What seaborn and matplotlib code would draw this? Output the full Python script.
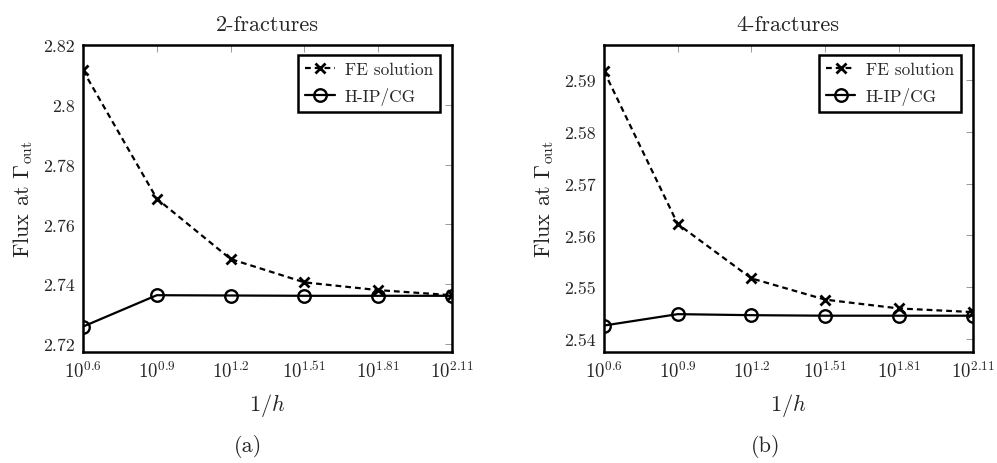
import numpy as np
import pandas as pd
import matplotlib
matplotlib.use("Agg")
import matplotlib.pyplot as plt
import seaborn as sns

sns.set_style("white")
plt.rcParams['font.family'] = ['cmr10', 'DejaVu Serif']
plt.rcParams['mathtext.fontset'] = 'cm'
plt.rcParams['axes.unicode_minus'] = False
plt.rcParams['axes.formatter.use_mathtext'] = True

# ---- data ----
inv_h = [4, 8, 16, 32, 64, 128]
x_tick_labels = [r"$10^{0.6}$", r"$10^{0.9}$", r"$10^{1.2}$",
                 r"$10^{1.51}$", r"$10^{1.81}$", r"$10^{2.11}$"]

fe_2frac = [2.8115, 2.7686, 2.7484, 2.7406, 2.7380, 2.7363]
hip_2frac = [2.7258, 2.7363, 2.7362, 2.7361, 2.7361, 2.7361]
y_ticks_2 = [2.72, 2.74, 2.76, 2.78, 2.80, 2.82]
y_labels_2 = ["2.72", "2.74", "2.76", "2.78", "2.8", "2.82"]

fe_4frac = [2.5917, 2.5622, 2.5517, 2.5476, 2.5459, 2.5452]
hip_4frac = [2.5426, 2.5448, 2.5446, 2.5445, 2.5445, 2.5445]
y_ticks_4 = [2.54, 2.55, 2.56, 2.57, 2.58, 2.59]
y_labels_4 = ["2.54", "2.55", "2.56", "2.57", "2.58", "2.59"]

titles = ["2-fractures", "4-fractures"]
captions = ["(a)", "(b)"]
series_names = ["FE solution", "H-IP/CG"]

fig = plt.figure(figsize=(9.97, 4.64), dpi=100)
ax1 = fig.add_axes([83/997, 1-352.7/464, 369/997, 306.7/464])
ax2 = fig.add_axes([604/997, 1-352.7/464, 368.7/997, 306.7/464])

panels = [
    (ax1, fe_2frac, hip_2frac, y_ticks_2, y_labels_2, (2.7174, 2.8200)),
    (ax2, fe_4frac, hip_4frac, y_ticks_4, y_labels_4, (2.53755, 2.59676)),
]

fs_tick = 12.8
fs_lab = 16
fs_leg = 12.4
for i, (ax, fe, hip, yt, yl, ylim) in enumerate(panels):
    sns.lineplot(x=inv_h, y=fe, ax=ax, color="black", linewidth=1.6,
                 linestyle=(0, (2.6, 1.8)), marker="x", markersize=6.5,
                 markeredgewidth=2.0, markeredgecolor="black",
                 label=series_names[0])
    sns.lineplot(x=inv_h, y=hip, ax=ax, color="black", linewidth=1.6,
                 marker="o", markersize=9, markerfacecolor="none",
                 markeredgecolor="black", markeredgewidth=1.7,
                 label=series_names[1])
    ax.set_xscale("log")
    ax.set_xlim(inv_h[0], inv_h[-1])
    ax.set_ylim(*ylim)
    ax.set_xticks(inv_h)
    ax.set_xticklabels(x_tick_labels)
    ax.minorticks_off()
    ax.set_yticks(yt)
    ax.set_yticklabels(yl)
    ax.tick_params(axis="both", direction="in", length=5, width=0.6,
                   color="#888888", top=True, right=True, labelsize=fs_tick,
                   pad=6)
    ax.tick_params(axis="x", labelsize=fs_tick + 0.7)
    for s in ax.spines.values():
        s.set_linewidth(1.8)
        s.set_color("black")
    ax.set_title(titles[i], fontsize=fs_lab, pad=11)
    ax.set_xlabel(r"$1/h$", fontsize=fs_lab, labelpad=7)
    ax.set_ylabel(r"Flux at $\Gamma_{\mathrm{out}}$", fontsize=fs_lab,
                  labelpad=6)
    leg = ax.legend(loc="upper right", fontsize=fs_leg, frameon=True,
                    fancybox=False, handlelength=1.7, handletextpad=0.6,
                    borderpad=0.4, labelspacing=0.55,
                    bbox_to_anchor=(0.9675, 0.967), borderaxespad=0)
    leg.get_frame().set_edgecolor("black")
    leg.get_frame().set_linewidth(1.8)
    leg.get_frame().set_alpha(1)

fig.text(248/997, 1-447/464, captions[0], ha="center", va="center", fontsize=fs_lab)
fig.text(766/997, 1-447/464, captions[1], ha="center", va="center", fontsize=fs_lab)

fig.savefig("out.png", dpi=100)
